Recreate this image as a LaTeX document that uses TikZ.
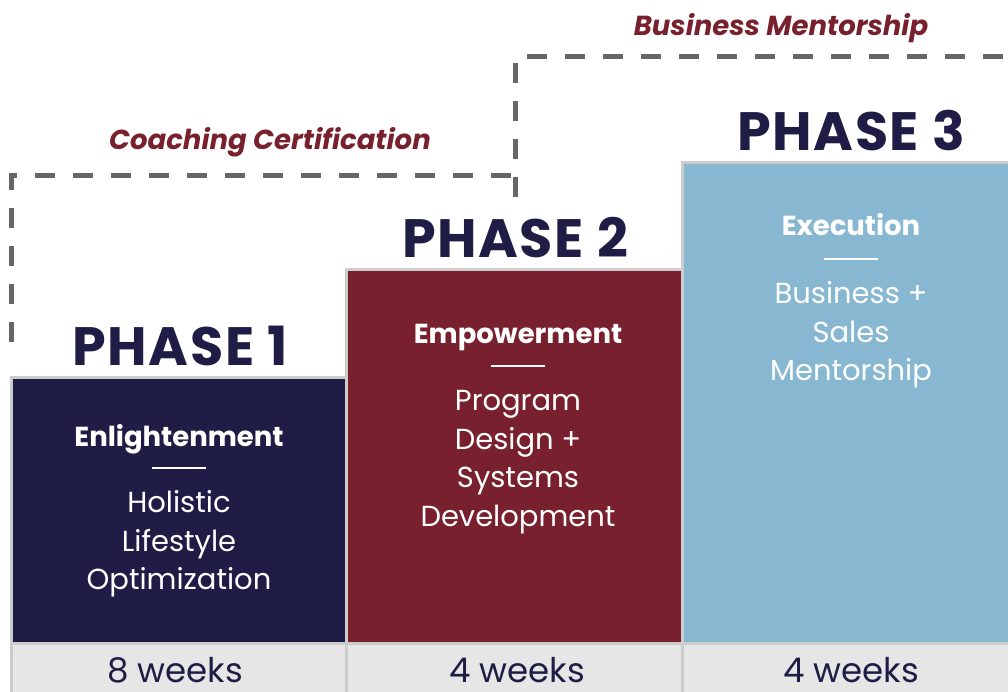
\documentclass[tikz,border=0pt]{standalone}
\usepackage{fontspec}
\setmainfont{Poppins}
\definecolor{navy}{RGB}{31,29,69}
\definecolor{wine}{RGB}{120,32,45}
\definecolor{sky}{RGB}{136,183,210}
\definecolor{strip}{RGB}{230,230,230}
\definecolor{edge}{RGB}{204,204,204}
\definecolor{trackgray}{RGB}{102,102,102}
\tikzset{
  phasebox/.style={draw=edge, line width=3pt},
  phasehead/.style={anchor=base, text=navy, font=\fontsize{54}{54}\selectfont\bfseries\addfontfeature{LetterSpace=3}, inner sep=0pt},
  stagetitle/.style={anchor=base, text=white, font=\fontsize{27.5}{27.5}\selectfont\bfseries, inner sep=0pt},
  stagebody/.style={anchor=center, text=white, align=center, font=\fontsize{29}{38.6}\selectfont, inner sep=0pt},
  rulebar/.style={white, line width=2.5pt},
  durlabel/.style={anchor=base, text=navy, font=\fontsize{34}{34}\selectfont, inner sep=0pt},
  tracklabel/.style={anchor=base, text=wine, font=\fontsize{27.5}{27.5}\selectfont\bfseries\itshape, inner sep=0pt},
  track/.style={draw=trackgray, line width=5pt, dash pattern=on 20pt off 18pt}
}
\begin{document}
\begin{tikzpicture}[x=1pt,y=-1pt]
\useasboundingbox (0,0) rectangle (1008,692);
\fill[white] (0,0) rectangle (1008,692);
% dashed tracks
\coordinate (c1s) at (11,342);
\coordinate (c1c) at (11,176);
\coordinate (c1e) at (515,176);
\draw[track] (c1s) -- (c1c) -- (c1e);
\coordinate (c2s) at (515,197);
\coordinate (c2c) at (515,57);
\coordinate (c2e) at (1010,57);
\draw[track] (c2s) -- (c2c) -- (c2e);
\node[tracklabel] (cc) at (270,150) {Coaching Certification};
\node[tracklabel] (bm) at (781,36) {Business Mentorship};
% boxes
\draw[phasebox, fill=navy] (11,377) rectangle (346,643) coordinate (b1);
\draw[phasebox, fill=wine] (346,270) rectangle (682,643) coordinate (b2);
\draw[phasebox, fill=sky] (682,163) rectangle (1012,643) coordinate (b3);
% bottom strip
\draw[phasebox, fill=strip] (11,643) rectangle (346,695);
\draw[phasebox, fill=strip] (346,643) rectangle (682,695);
\draw[phasebox, fill=strip] (682,643) rectangle (1012,695);
% headings
\node[phasehead] (h1) at (180,365) {PHASE 1};
\node[phasehead] (h2) at (515,258) {PHASE 2};
\node[phasehead] (h3) at (851,151) {PHASE 3};
% phase 1
\node[stagetitle] (t1) at (179,446) {Enlightenment};
\draw[rulebar] (152,468) -- (206,468);
\node[stagebody] (d1) at (179,544) {Holistic\\Lifestyle\\Optimization};
% phase 2
\node[stagetitle] (t2) at (518,343) {Empowerment};
\draw[rulebar] (491,366) -- (545,366);
\node[stagebody] (d2) at (518,462) {Program\\Design +\\Systems\\Development};
% phase 3
\node[stagetitle] (t3) at (851,236) {Execution};
\draw[rulebar] (824,259) -- (878,259);
\node[stagebody] (d3) at (851,335) {Business +\\Sales\\Mentorship};
% durations
\node[durlabel] (w1) at (175,682) {8 weeks};
\node[durlabel] (w2) at (517,682) {4 weeks};
\node[durlabel] (w3) at (851,682) {4 weeks};
\end{tikzpicture}
\end{document}
